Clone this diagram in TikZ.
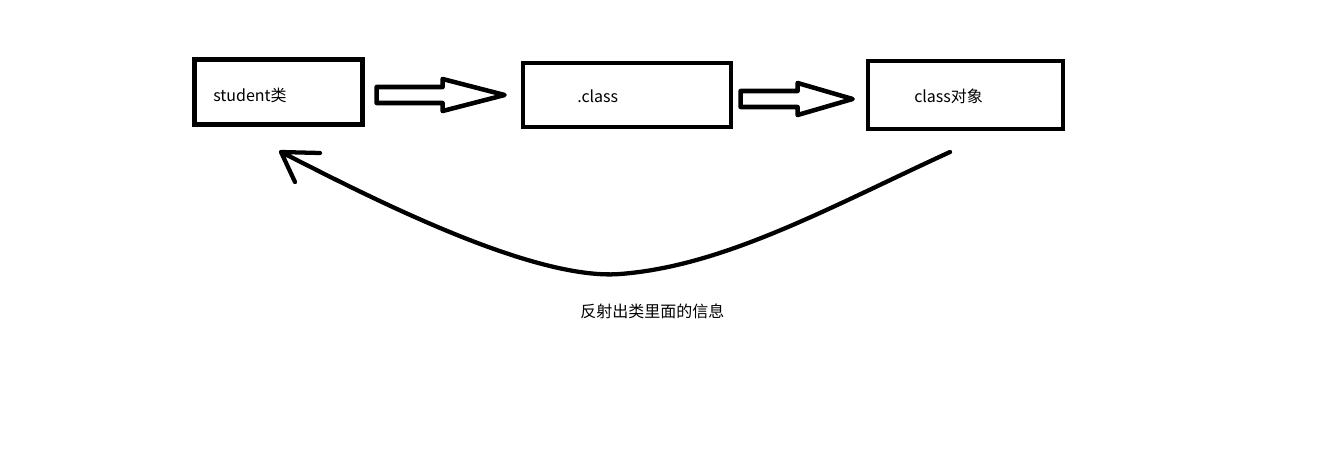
\documentclass[tikz,border=0pt]{standalone}
\usepackage{fontspec}
\setmainfont{Noto Sans CJK SC}
\usetikzlibrary{calc}
\tikzset{
  classbox/.style={draw=black,line width=3.6pt,inner sep=0pt},
  boxtext/.style={anchor=west,inner sep=0pt,font=\fontsize{12}{14}\selectfont},
  blockarr/.style={draw=black,line width=3.4pt,line join=round,line cap=round},
  backarr/.style={draw=black,line width=3.2pt,line join=round,line cap=round}
}
\begin{document}
\begin{tikzpicture}[x=0.75pt,y=0.75pt,yscale=-1,xscale=1]
\useasboundingbox (0,0) rectangle (1341,465);
% boxes
\node [classbox,minimum width=126pt,minimum height=48.75pt] (stu) at (278.5,92) {};
\node [classbox,minimum width=156pt,minimum height=48pt] (cls) at (627,95) {};
\node [classbox,minimum width=146.25pt,minimum height=51pt] (obj) at (965.5,95) {};
\node [boxtext] (stutext) at (213,95) {student类};
\node [boxtext] (clstext) at (577,96) {.class};
\node [boxtext] (objtext) at (914,96) {class对象};
% block arrows
\draw [blockarr] ([shift={(-16,0)}]cls.west) -- ++(-62,-16) -- ++(0,8) -- ++(-66,0) -- ++(0,16) -- ++(66,0) -- ++(0,8) -- cycle ;
\draw [blockarr] ([shift={(-13,4)}]obj.west) -- ++(-55,-16) -- ++(0,8) -- ++(-57,0) -- ++(0,16) -- ++(57,0) -- ++(0,8) -- cycle ;
% reflection back to the class
\coordinate (from) at (950,152);
\coordinate (tip) at (281,152);
\draw [backarr] (from) .. controls (830,207) and (725,266) .. (620,274) .. controls (530,281) and (360,192) .. (tip) -- ++(39,1) (tip) -- ++(14,30) ;
\node [boxtext] (caption) at (580,311) {反射出类里面的信息};
\end{tikzpicture}
\end{document}
